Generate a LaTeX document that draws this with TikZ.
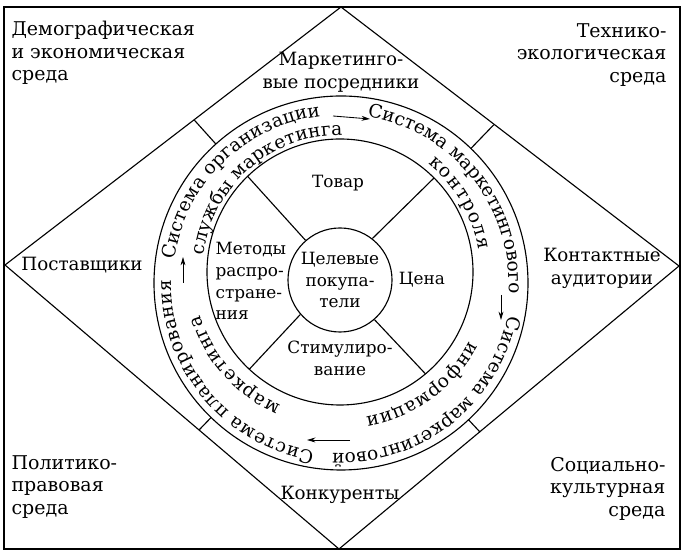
\documentclass[tikz,border=0pt]{standalone}
\usepackage{fontspec}
\setmainfont{DejaVu Serif}
\usepackage{tikz}
\usetikzlibrary{arrows.meta, positioning, decorations.text}
\newcommand{\ringfont}{\fontsize{13.2}{15}\selectfont}
% text set along a clockwise arc: centre, radius, start, end, text
\newcommand{\ringtext}[5]{%
  \path[decorate, decoration={text along path, text align=fit to path,
    text={|\ringfont|#5}}] (#1) ++(#3:#2) arc[start angle=#3, end angle=#4, radius=#2];}

\begin{document}
\begin{tikzpicture}[x=0.025cm, y=0.025cm, line width=0.8pt,
  env/.style={font=\fontsize{13.5}{16}\selectfont, inner sep=0pt},
  actor/.style={font=\fontsize{13}{16.5}\selectfont, inner sep=0pt, align=center},
  mix/.style={font=\fontsize{12}{15.5}\selectfont, inner sep=0pt, align=center},
  flow/.style={-{Stealth[length=6pt, width=3.5pt]}, line width=0.6pt}]
\useasboundingbox (0,0) rectangle (686,557);
% environment: frame and diamond
\draw[line width=1.2pt] (4,8) rectangle (680,550);
\draw (341,550) -- (679,291) -- (339,8) -- (5,292) -- cycle;
\node[env, align=left, anchor=north west] (demo) at (11,536) {Демографическая\\и~экономическая\\среда};
\node[env, align=right, anchor=north east] (tech) at (667,534) {Технико-\\экологическая\\среда};
\node[env, align=left, anchor=south west] (polit) at (11,38) {Политико-\\правовая\\среда};
\node[env, align=right, anchor=south east] (soc) at (666,36) {Социально-\\культурная\\среда};
% microenvironment
\node[actor] (interm) at (341,485) {Маркетинго-\\вые посредники};
\node[actor] (suppl) at (82,292) {Поставщики};
\node[actor] (public) at (602,289) {Контактные\\аудитории};
\node[actor] (compet) at (340,62) {Конкуренты};
% circles
\coordinate (oc) at (341,274);
\coordinate (mc) at (340,285);
\draw (oc) circle (187);
\draw (mc) circle (133);
\draw ([shift={(132:187)}]oc) -- ([shift={(132:219)}]oc);
\draw ([shift={(46:187)}]oc) -- ([shift={(46:220)}]oc);
\draw ([shift={(226:187)}]oc) -- ([shift={(226:204)}]oc);
\draw ([shift={(-47:187)}]oc) -- ([shift={(-47:204)}]oc);
% marketing mix
\node[mix, draw, circle, minimum size=2.6cm] (buyers) at (340,277) {Целевые\\покупа-\\тели};
\draw (buyers.131) -- ([shift={(134:133)}]mc);
\draw (buyers.52) -- ([shift={(45:133)}]mc);
\draw (buyers.221) -- ([shift={(227:133)}]mc);
\draw (buyers.311) -- ([shift={(310:133)}]mc);
\node[mix] (product) at (338,374) {Товар};
\node[mix] (price) at (422,277) {Цена};
\node[mix] (promo) at (340,199) {Стимулиро-\\вание};
\node[mix, align=left, anchor=west] (place) at (215,276) {Методы\\распро-\\стране-\\ния};
% marketing systems in the ring
\ringtext{oc}{168}{172}{97}{Система организации}
\ringtext{mc}{137}{173}{89}{службы маркетинга}
\ringtext{oc}{168}{81}{-3}{Система маркетингового}
\ringtext{mc}{140}{51}{9}{контроля}
\ringtext{oc}{170}{-11}{-93}{Система маркетинговой}
\ringtext{mc}{147}{-28}{-80}{информации}
\ringtext{oc}{170}{261}{179}{Система планирования}
\ringtext{mc}{146}{246}{197}{маркетинга}
\coordinate (arT1) at (333,441);
\coordinate (arT2) at (370,438);
\coordinate (arR1) at (501,262);
\coordinate (arR2) at (501,237);
\coordinate (arB1) at (350,117);
\coordinate (arB2) at (307,117);
\coordinate (arL1) at (183,274);
\coordinate (arL2) at (183,300);
\draw[flow] (arT1) -- (arT2);
\draw[flow] (arR1) -- (arR2);
\draw[flow] (arB1) -- (arB2);
\draw[flow] (arL1) -- (arL2);
\end{tikzpicture}
\end{document}
